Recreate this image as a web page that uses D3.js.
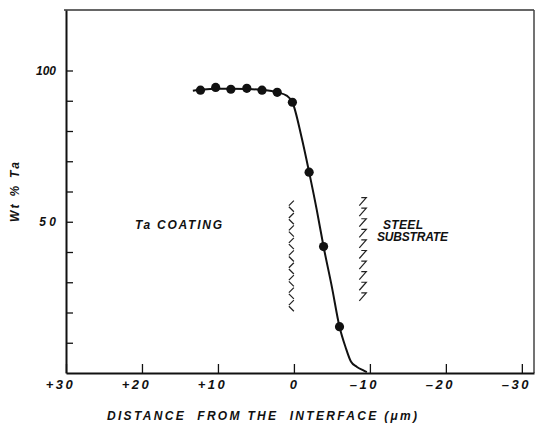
<!DOCTYPE html>
<html>
<head>
<meta charset="utf-8">
<script src="https://cdn.jsdelivr.net/npm/d3@7"></script>
<style>
body { margin: 0; background: #fff; }
svg text { font-family: "Liberation Sans", Arial, sans-serif; font-style: italic; font-weight: bold; fill: #111; }
</style>
</head>
<body>
<svg id="chart" width="535" height="424"></svg>
<script>
// measured points (distance from interface in um, wt % Ta)
var distance = [12.3, 10.3, 8.3, 6.2, 4.2, 2.2, 0.2, -2.0, -3.9, -6.0];
var wtTa = [93.5, 94.4, 93.8, 94.1, 93.5, 92.8, 89.5, 66.4, 41.8, 15.3];

// the hand drawn curve, it runs a bit past the points at both ends
var curveDistance = [13.3, 12.3, 10.3, 8.3, 6.2, 4.2, 2.2, 0.9, 0.2, -1.0, -2.0, -3.0, -3.9, -5.0, -6.0, -6.8, -7.5, -8.3, -9.2, -9.6];
var curveWt = [93.3, 93.6, 94.0, 94.0, 93.9, 93.6, 92.8, 91.6, 89.5, 78.0, 66.4, 54.0, 41.8, 28.4, 15.3, 8.5, 3.8, 2.0, 0.8, 0.3];

var xTicks = [30, 20, 10, 0, -10, -20, -30];
var xTickLabels = ["+30", "+20", "+10", "0", "\u201310", "\u201320", "\u201330"];
var yTicks = [10, 20, 30, 40, 50, 60, 70, 80, 90, 100];
var yTickLabels = { 100: "100", 50: "5 0" };

// interface hatching: [distance, top wt%, bottom wt%]
var coatingSide = [0.4, 57, 20];
var steelSide = [-9.0, 58, 23];

var svg = d3.select("#chart");

var x = d3.scaleLinear().domain([30, -31.6]).range([66, 534]);
var y = d3.scaleLinear().domain([0, 120]).range([373, 10]);

// frame top and right
svg.append("line").attr("x1", 64).attr("x2", 534).attr("y1", 10).attr("y2", 10)
    .attr("stroke", "#333").attr("stroke-width", 1.5);
svg.append("line").attr("x1", 534).attr("x2", 534).attr("y1", 10).attr("y2", 373)
    .attr("stroke", "#444").attr("stroke-width", 1.5);

var yAxis = d3.axisLeft(y).tickValues(yTicks).tickSizeInner(-7).tickSizeOuter(0).tickPadding(10)
    .tickFormat(function (d) { return yTickLabels[d] || ""; });
var gy = svg.append("g").attr("transform", "translate(66,0)").call(yAxis);
gy.select(".domain").attr("stroke", "#111").attr("stroke-width", 2);
gy.selectAll(".tick line").attr("stroke", "#111").attr("stroke-width", 1.3);
gy.selectAll("text").attr("font-family", null).attr("font-size", 12).attr("fill", "#111");

var xAxis = d3.axisBottom(x).tickValues(xTicks).tickSizeInner(-9).tickSizeOuter(0).tickPadding(7)
    .tickFormat(function (d, i) { return xTickLabels[i]; });
var gx = svg.append("g").attr("transform", "translate(0,373)").call(xAxis);
gx.select(".domain").attr("stroke", "#111").attr("stroke-width", 2);
gx.selectAll(".tick line").attr("stroke", "#111").attr("stroke-width", 1.3);
gx.selectAll("text").attr("font-family", null).attr("font-size", 13).attr("fill", "#111")
    .attr("dx", function (d) { return d == 0 ? -1 : -6; })
    .style("letter-spacing", function (d) { return d == 0 ? "0px" : "2.5px"; });

// curve
var line = d3.line()
    .x(function (d) { return x(d[0]); })
    .y(function (d) { return y(d[1]); })
    .curve(d3.curveMonotoneX);
svg.append("path")
    .datum(d3.zip(curveDistance, curveWt))
    .attr("d", line)
    .attr("fill", "none").attr("stroke", "#111").attr("stroke-width", 2);

svg.selectAll(".pt")
    .data(d3.zip(distance, wtTa))
    .enter().append("circle")
    .attr("class", "pt")
    .attr("cx", function (d) { return x(d[0]); })
    .attr("cy", function (d) { return y(d[1]); })
    .attr("r", 4.6)
    .attr("fill", "#111");

// hatch marks either side of the diffusion zone
function hatch(spec, steps, shape) {
    var cx = x(spec[0]), top = y(spec[1]), bot = y(spec[2]);
    var step = (bot - top) / steps;
    for (var i = 0; i < steps; i++) {
        svg.append("path").attr("d", shape(cx, top + i * step, i))
            .attr("fill", "none").attr("stroke", "#222").attr("stroke-width", 1.2);
    }
}
hatch(coatingSide, 18, function (cx, y0, i) {
    return i % 2 == 0
        ? "M" + (cx + 3) + "," + y0 + "L" + (cx - 2) + "," + (y0 + 5)
        : "M" + (cx - 2) + "," + y0 + "L" + (cx + 3) + "," + (y0 + 5);
});
hatch(steelSide, 10, function (cx, y0) {
    return "M" + (cx - 1) + "," + y0 + "L" + (cx + 4) + "," + y0 + "L" + (cx - 3) + "," + (y0 + 8);
});

// region labels
svg.append("text").attr("x", 135).attr("y", 228.5).attr("font-size", 12)
    .attr("textLength", 87).attr("lengthAdjust", "spacing").text("Ta COATING");
svg.append("text").attr("x", 383).attr("y", 228.5).attr("font-size", 12)
    .attr("textLength", 40).attr("lengthAdjust", "spacing").text("STEEL");
svg.append("text").attr("x", 377).attr("y", 241).attr("font-size", 12)
    .attr("textLength", 71).attr("lengthAdjust", "spacing").text("SUBSTRATE");

// axis titles
svg.append("text").attr("transform", "translate(19,192) rotate(-90)")
    .attr("text-anchor", "middle").attr("font-size", 12)
    .attr("textLength", 60).attr("lengthAdjust", "spacing").text("Wt % Ta");
svg.append("text").attr("x", 107).attr("y", 419.5).attr("font-size", 12)
    .style("white-space", "pre")
    .attr("textLength", 310).attr("lengthAdjust", "spacing")
    .text("DISTANCE  FROM THE  INTERFACE (\u03bcm)");
</script>
</body>
</html>
